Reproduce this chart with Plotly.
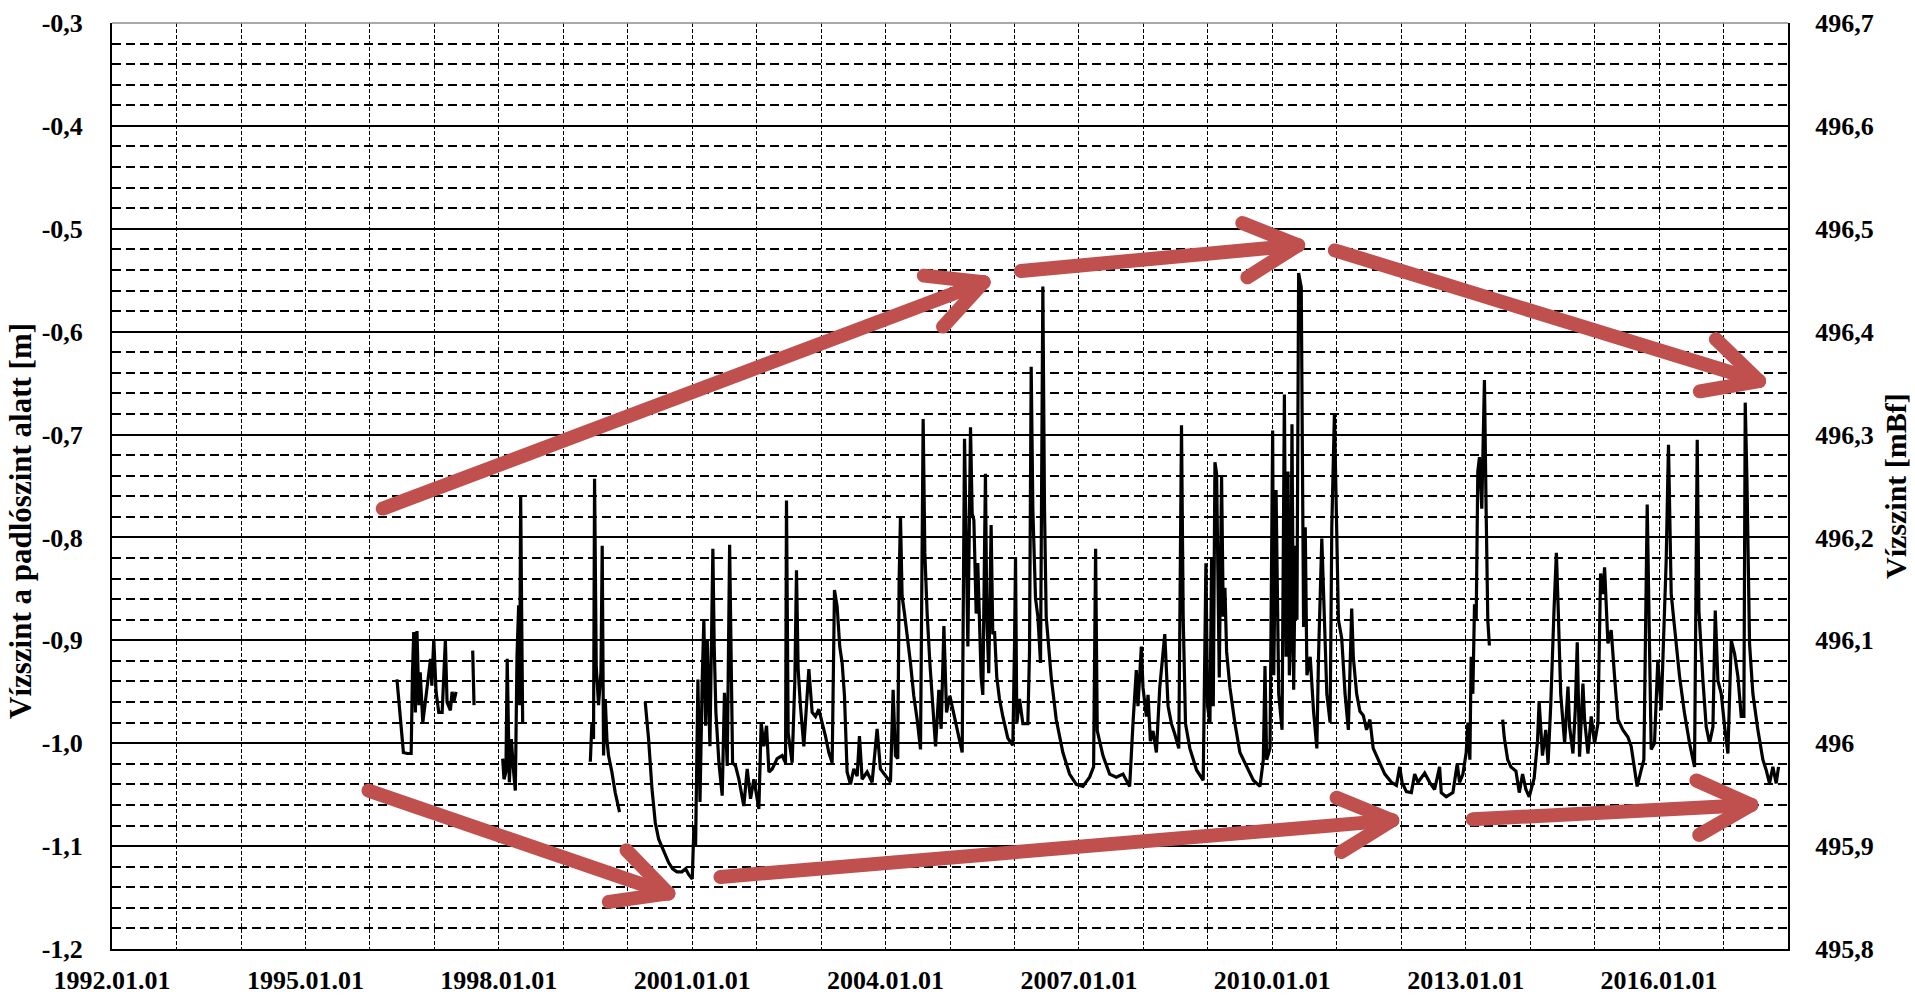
import math
import numpy as np
import pandas as pd
import plotly.graph_objects as go

# ---------------- data (decimal year, water level below floor [m]) ----------------
seg1_year = [1996.42, 1996.47, 1996.52, 1996.58, 1996.64, 1996.66, 1996.68, 1996.705, 1996.73, 1996.76,
             1996.78, 1996.82, 1996.886, 1996.94, 1996.96, 1996.99, 1997.026, 1997.067, 1997.12, 1997.17,
             1997.196, 1997.248, 1997.274, 1997.30, 1997.336]
seg1_level = [-0.938, -0.970, -1.009, -1.010, -1.010, -0.931, -0.892, -0.970, -0.891, -0.963,
              -0.931, -0.980, -0.947, -0.918, -0.944, -0.899, -0.950, -0.970, -0.970, -0.900,
              -0.960, -0.968, -0.950, -0.960, -0.950]

seg2_year = [1997.594, 1997.615]
seg2_level = [-0.910, -0.963]

seg3_year = [1998.06, 1998.08, 1998.11, 1998.13, 1998.163, 1998.194, 1998.23, 1998.256, 1998.282, 1998.308,
             1998.323, 1998.339, 1998.36, 1998.37]
seg3_level = [-1.015, -1.035, -1.028, -0.918, -1.038, -0.996, -1.028, -1.046, -0.915, -0.866,
              -0.963, -0.760, -0.915, -0.980]

seg4_year = [1999.42, 1999.445, 1999.47, 1999.486, 1999.512, 1999.548, 1999.585, 1999.605, 1999.626, 1999.652,
             1999.678, 1999.703, 1999.755, 1999.807, 1999.874]
seg4_level = [-1.018, -0.980, -0.996, -0.743, -0.925, -0.963, -0.931, -0.808, -1.012, -0.957,
              -0.996, -1.012, -1.028, -1.048, -1.067]

seg5_year = [2000.272, 2000.324, 2000.376, 2000.427, 2000.479, 2000.557, 2000.634, 2000.696, 2000.763, 2000.84,
             2000.897, 2000.948, 2001.0, 2001.026, 2001.052, 2001.088, 2001.12, 2001.155, 2001.18, 2001.207,
             2001.233, 2001.274, 2001.30, 2001.32, 2001.341, 2001.367, 2001.414, 2001.465, 2001.50, 2001.543,
             2001.58, 2001.60, 2001.626, 2001.672, 2001.724, 2001.80, 2001.853, 2001.905, 2001.957, 2002.034,
             2002.07, 2002.112, 2002.153, 2002.19, 2002.241, 2002.318, 2002.396, 2002.448, 2002.463, 2002.489,
             2002.551, 2002.593, 2002.618, 2002.644, 2002.68, 2002.732, 2002.774, 2002.81, 2002.861, 2002.913,
             2002.965, 2003.017, 2003.068, 2003.12, 2003.172, 2003.208, 2003.249, 2003.29, 2003.327, 2003.363,
             2003.404, 2003.456, 2003.508, 2003.56, 2003.596, 2003.637, 2003.715, 2003.792, 2003.87, 2003.921,
             2003.999, 2004.077, 2004.118, 2004.154, 2004.19, 2004.211, 2004.232, 2004.257, 2004.294, 2004.335,
             2004.387, 2004.438, 2004.49, 2004.542, 2004.583, 2004.609, 2004.645, 2004.687, 2004.723, 2004.775,
             2004.826, 2004.862, 2004.904, 2004.945, 2004.997, 2005.049, 2005.11, 2005.188, 2005.224, 2005.25,
             2005.276, 2005.317, 2005.343, 2005.369, 2005.405, 2005.43, 2005.456, 2005.482, 2005.508, 2005.528,
             2005.549, 2005.57, 2005.60, 2005.637, 2005.663, 2005.69, 2005.725, 2005.767, 2005.819, 2005.896,
             2005.974, 2006.0, 2006.016, 2006.036, 2006.078, 2006.13, 2006.207, 2006.233, 2006.259, 2006.285,
             2006.326, 2006.363, 2006.404, 2006.44, 2006.466, 2006.492, 2006.518, 2006.57, 2006.648, 2006.751,
             2006.855, 2006.959, 2007.062, 2007.166, 2007.228, 2007.259, 2007.285, 2007.373, 2007.477, 2007.58,
             2007.684, 2007.788, 2007.839, 2007.891, 2007.917, 2007.969, 2007.995, 2008.047, 2008.073, 2008.109,
             2008.15, 2008.202, 2008.254, 2008.295, 2008.332, 2008.383, 2008.435, 2008.487, 2008.549, 2008.591,
             2008.617, 2008.653, 2008.72, 2008.824, 2008.927, 2008.969, 2008.995, 2009.031, 2009.057, 2009.083,
             2009.109, 2009.135, 2009.176, 2009.212, 2009.238, 2009.264, 2009.29, 2009.342, 2009.42, 2009.497,
             2009.601, 2009.705, 2009.808, 2009.86, 2009.886, 2009.912, 2009.964, 2010.005, 2010.022, 2010.058,
             2010.099, 2010.151, 2010.187, 2010.213, 2010.243, 2010.264, 2010.285, 2010.305, 2010.331, 2010.357,
             2010.382, 2010.408, 2010.449, 2010.47, 2010.485, 2010.511, 2010.537, 2010.588, 2010.64, 2010.691,
             2010.717, 2010.768, 2010.81, 2010.846, 2010.897, 2010.923, 2010.964, 2011.0, 2011.026, 2011.077,
             2011.129, 2011.18, 2011.232, 2011.257, 2011.309, 2011.36, 2011.412, 2011.463, 2011.515, 2011.566,
             2011.643, 2011.746, 2011.849, 2011.926, 2011.978, 2012.014, 2012.081, 2012.158, 2012.209, 2012.261,
             2012.364, 2012.441, 2012.518, 2012.595, 2012.621, 2012.698, 2012.801, 2012.868, 2012.904, 2012.956,
             2013.007, 2013.033, 2013.064, 2013.084, 2013.11, 2013.136, 2013.162, 2013.187, 2013.213, 2013.249,
             2013.27, 2013.29, 2013.316, 2013.342, 2013.367]
seg5_level = [-0.960, -0.996, -1.044, -1.077, -1.093, -1.104, -1.116, -1.122, -1.125, -1.125,
              -1.122, -1.128, -1.132, -1.080, -1.099, -0.938, -1.057, -0.938, -0.880, -0.983,
              -0.899, -1.003, -0.906, -0.811, -0.906, -0.970, -1.019, -1.051, -0.951, -1.022,
              -0.807, -0.886, -1.019, -1.022, -1.035, -1.061, -1.025, -1.054, -1.035, -1.064,
              -0.980, -1.003, -0.983, -1.028, -1.025, -1.015, -1.012, -1.019, -0.764, -0.990,
              -1.019, -0.938, -0.832, -0.928, -0.964, -1.003, -0.957, -0.928, -0.970, -0.974,
              -0.967, -0.980, -0.993, -1.009, -1.019, -0.851, -0.867, -0.906, -0.922, -0.954,
              -1.028, -1.040, -1.025, -1.032, -0.993, -1.035, -1.028, -1.038, -0.986, -1.025,
              -1.032, -1.038, -0.948, -1.012, -1.015, -0.841, -0.780, -0.857, -0.874, -0.893,
              -0.922, -0.954, -0.977, -1.006, -0.685, -0.815, -0.874, -0.922, -0.954, -1.003,
              -0.948, -0.986, -0.886, -0.970, -0.954, -0.970, -0.986, -1.009, -0.704, -0.809,
              -0.906, -0.693, -0.777, -0.783, -0.874, -0.825, -0.877, -0.936, -0.953, -0.842,
              -0.738, -0.877, -0.932, -0.788, -0.894, -0.891, -0.936, -0.957, -0.974, -0.995,
              -1.002, -0.905, -0.819, -0.981, -0.957, -0.981, -0.981, -0.911, -0.634, -0.773,
              -0.859, -0.877, -0.922, -0.556, -0.773, -0.877, -0.894, -0.936, -0.977, -1.009,
              -1.030, -1.040, -1.042, -1.033, -1.023, -0.811, -0.988, -1.012, -1.030, -1.033,
              -1.030, -1.042, -0.981, -0.929, -0.964, -0.906, -0.946, -0.974, -0.953, -0.998,
              -0.988, -1.009, -0.946, -0.922, -0.894, -0.964, -0.981, -0.991, -1.005, -0.691,
              -0.877, -0.981, -1.005, -1.026, -1.036, -0.825, -0.964, -0.981, -0.821, -0.964,
              -0.727, -0.738, -0.936, -0.741, -0.877, -0.849, -0.911, -0.946, -0.981, -1.009,
              -1.023, -1.036, -1.042, -1.016, -0.925, -1.016, -1.005, -0.696, -0.934, -0.754,
              -0.952, -0.987, -0.661, -0.916, -0.736, -0.934, -0.898, -0.690, -0.948, -0.808,
              -0.880, -0.543, -0.557, -0.772, -0.887, -0.790, -0.934, -0.916, -0.969, -1.005,
              -0.916, -0.801, -0.880, -0.952, -0.980, -0.790, -0.679, -0.808, -0.880, -0.898,
              -0.952, -0.987, -0.869, -0.916, -0.952, -0.969, -0.973, -0.987, -0.977, -1.005,
              -1.016, -1.030, -1.038, -1.041, -1.023, -1.038, -1.047, -1.048, -1.030, -1.038,
              -1.029, -1.038, -1.045, -1.023, -1.048, -1.052, -1.048, -1.020, -1.038, -1.030,
              -1.009, -0.980, -1.016, -0.916, -0.952, -0.865, -0.880, -0.736, -0.722, -0.772,
              -0.708, -0.647, -0.772, -0.880, -0.905]

seg6_year = [2013.573, 2013.599, 2013.651, 2013.702, 2013.779, 2013.831, 2013.882, 2013.934, 2013.985, 2014.062,
             2014.114, 2014.139, 2014.191, 2014.242, 2014.278, 2014.32, 2014.371, 2014.407, 2014.433, 2014.474,
             2014.535, 2014.587, 2014.612, 2014.664, 2014.70, 2014.731, 2014.767, 2014.819, 2014.845, 2014.897,
             2014.948, 2015.0, 2015.052, 2015.093, 2015.129, 2015.155, 2015.207, 2015.258, 2015.31, 2015.362,
             2015.439, 2015.517, 2015.568, 2015.62, 2015.661, 2015.724, 2015.765, 2015.817, 2015.853, 2015.879,
             2015.93, 2015.982, 2016.034, 2016.085, 2016.111, 2016.147, 2016.189, 2016.24, 2016.318, 2016.395,
             2016.473, 2016.55, 2016.571, 2016.592, 2016.618, 2016.654, 2016.68, 2016.731, 2016.783, 2016.835,
             2016.871, 2016.912, 2016.964, 2017.016, 2017.067, 2017.119, 2017.171, 2017.222, 2017.274, 2017.315,
             2017.336, 2017.362, 2017.388, 2017.403, 2017.455, 2017.532, 2017.61, 2017.661, 2017.713, 2017.765,
             2017.817, 2017.853]
seg6_level = [-0.977, -0.995, -1.016, -1.023, -1.027, -1.048, -1.030, -1.045, -1.052, -1.034,
              -0.998, -0.959, -1.012, -0.987, -1.020, -0.962, -0.869, -0.815, -0.865, -0.952,
              -1.000, -0.945, -0.984, -1.010, -0.968, -0.902, -1.013, -0.942, -0.977, -1.010,
              -0.974, -1.000, -0.981, -0.835, -0.855, -0.829, -0.903, -0.890, -0.935, -0.977,
              -0.987, -0.994, -1.003, -1.026, -1.042, -1.026, -1.016, -0.768, -0.887, -1.006,
              -1.000, -0.919, -0.968, -0.855, -0.823, -0.710, -0.855, -0.887, -0.935, -0.971,
              -1.000, -1.023, -0.887, -0.705, -0.871, -0.919, -0.939, -0.984, -1.000, -0.984,
              -0.871, -0.939, -0.952, -0.984, -1.010, -0.900, -0.913, -0.935, -0.974, -0.974,
              -0.669, -0.742, -0.855, -0.903, -0.952, -0.987, -1.016, -1.026, -1.039, -1.023,
              -1.039, -1.023]

segments = [(seg1_year, seg1_level), (seg2_year, seg2_level), (seg3_year, seg3_level),
            (seg4_year, seg4_level), (seg5_year, seg5_level), (seg6_year, seg6_level)]

# axis ticks
left_tick_vals = [-0.3, -0.4, -0.5, -0.6, -0.7, -0.8, -0.9, -1.0, -1.1, -1.2]
left_tick_text = ["-0,3", "-0,4", "-0,5", "-0,6", "-0,7", "-0,8", "-0,9", "-1,0", "-1,1", "-1,2"]
right_tick_vals = [496.7, 496.6, 496.5, 496.4, 496.3, 496.2, 496.1, 496.0, 495.9, 495.8]
right_tick_text = ["496,7", "496,6", "496,5", "496,4", "496,3", "496,2", "496,1", "496", "495,9", "495,8"]

# trend arrows (decimal year, level): tail -> tip
arrow_tail_year = [1996.20, 2006.10, 2010.97, 1995.98, 2001.44, 2013.11]
arrow_tail_level = [-0.772, -0.541, -0.521, -1.046, -1.130, -1.074]
arrow_tip_year = [2005.52, 2010.40, 2017.55, 2000.63, 2011.86, 2017.43]
arrow_tip_level = [-0.552, -0.516, -0.648, -1.146, -1.075, -1.060]

# ---------------- helpers ----------------
def to_date(y):
    yr = int(math.floor(y))
    start = pd.Timestamp(yr, 1, 1)
    end = pd.Timestamp(yr + 1, 1, 1)
    return start + (y - yr) * (end - start)

xs, ys = [], []
for yrs, lv in segments:
    xs += [to_date(v) for v in yrs] + [None]
    ys += list(lv) + [None]

FIG_W, FIG_H = 1915, 995
M_L, M_R, M_T, M_B = 112, 127, 23, 46
PW, PH = FIG_W - M_L - M_R, FIG_H - M_T - M_B
X0, X1 = 1992.0, 2018.0
Y0, Y1 = -1.2, -0.3

def to_px(year, val):
    return ((year - X0) / (X1 - X0) * PW, (val - Y0) / (Y1 - Y0) * PH)

def capsule(p0, p1, r=7.0, n=14):
    ang = math.atan2(p1[1] - p0[1], p1[0] - p0[0])
    pts = []
    for k in range(n + 1):
        a = ang - math.pi / 2 + math.pi * k / n
        pts.append((p1[0] + r * math.cos(a), p1[1] + r * math.sin(a)))
    for k in range(n + 1):
        a = ang + math.pi / 2 + math.pi * k / n
        pts.append((p0[0] + r * math.cos(a), p0[1] + r * math.sin(a)))
    return "M " + " L ".join(f"{x / PW:.5f},{y / PH:.5f}" for x, y in pts) + " Z"

RED = "#C0504D"
shapes = []
for ty, tl, hy, hl in zip(arrow_tail_year, arrow_tail_level, arrow_tip_year, arrow_tip_level):
    p0 = to_px(ty, tl)
    p1 = to_px(hy, hl)
    back = math.atan2(p0[1] - p1[1], p0[0] - p1[0])
    segs = [(p0, p1)]
    for s in (+1, -1):
        a = back + s * math.radians(27)
        arm = (p1[0] + 60 * math.cos(a), p1[1] + 60 * math.sin(a))
        segs.append((arm, p1))
    for a0, a1 in segs:
        shapes.append(dict(type="path", xref="paper", yref="paper", path=capsule(a0, a1),
                           fillcolor=RED, line=dict(width=0), layer="above"))

# top frame line (gray)
shapes.append(dict(type="line", xref="paper", yref="paper", x0=0, x1=1, y0=1, y1=1,
                   line=dict(color="#8c8c8c", width=1.5), layer="above"))

FONT = "Liberation Serif, Times New Roman, serif"

fig = go.Figure()
fig.add_trace(go.Scatter(x=xs, y=ys, mode="lines", line=dict(color="black", width=3.2),
                         connectgaps=False, showlegend=False, hoverinfo="skip"))
fig.add_trace(go.Scatter(x=[None], y=[None], yaxis="y2", mode="lines", showlegend=False,
                         hoverinfo="skip"))

fig.update_layout(
    width=FIG_W, height=FIG_H,
    margin=dict(l=M_L, r=M_R, t=M_T, b=M_B, pad=0, autoexpand=False),
    paper_bgcolor="white", plot_bgcolor="white",
    font=dict(family=FONT, size=26, color="black", weight="bold"),
    showlegend=False,
    xaxis=dict(
        type="date", range=["1992-01-01", "2018-01-01"], automargin=False,
        tick0="1992-01-01", dtick="M36", tickformat="%Y.%m.%d",
        ticks="", ticklabelstandoff=7,
        showgrid=True, gridcolor="black", gridwidth=1.3, griddash="4px,2px",
        minor=dict(dtick="M12", tick0="1992-01-01", showgrid=True, gridcolor="black",
                   gridwidth=1.3, griddash="4px,2px"),
        showline=True, linecolor="black", linewidth=2, zeroline=False,
        tickfont=dict(family=FONT, size=26, color="black", weight="bold"),
    ),
    yaxis=dict(
        range=[Y0, Y1], tickvals=left_tick_vals, ticktext=left_tick_text, automargin=False,
        ticks="", ticklabelstandoff=22,
        showgrid=True, gridcolor="black", gridwidth=1.6,
        minor=dict(dtick=0.02, tick0=-1.2, showgrid=True, gridcolor="black",
                   gridwidth=1.5, griddash="9px,5px"),
        showline=True, linecolor="black", linewidth=2, zeroline=False,
        tickfont=dict(family=FONT, size=26, color="black", weight="bold"),
    ),
    yaxis2=dict(
        range=[495.8, 496.7], overlaying="y", side="right", automargin=False,
        tickvals=right_tick_vals, ticktext=right_tick_text,
        ticks="", ticklabelstandoff=20, showgrid=False, zeroline=False,
        showline=True, linecolor="black", linewidth=2,
        tickfont=dict(family=FONT, size=26, color="black", weight="bold"),
    ),
    shapes=shapes,
    annotations=[
        dict(text="Vízszint a padlószint alatt [m]", xref="paper", yref="paper",
             x=(20 - M_L) / PW, y=(FIG_H - M_B - 521) / PH, xanchor="center", yanchor="middle",
             textangle=-90, showarrow=False,
             font=dict(family=FONT, size=31, color="black", weight="bold")),
        dict(text="Vízszint [mBf]", xref="paper", yref="paper",
             x=(1895 - M_L) / PW, y=(FIG_H - M_B - 486) / PH, xanchor="center", yanchor="middle",
             textangle=-90, showarrow=False,
             font=dict(family=FONT, size=30, color="black", weight="bold")),
    ],
)

fig.write_html("out.html", config={"displayModeBar": False},
               post_script="document.body.style.margin='0';document.body.style.overflow='hidden';")
